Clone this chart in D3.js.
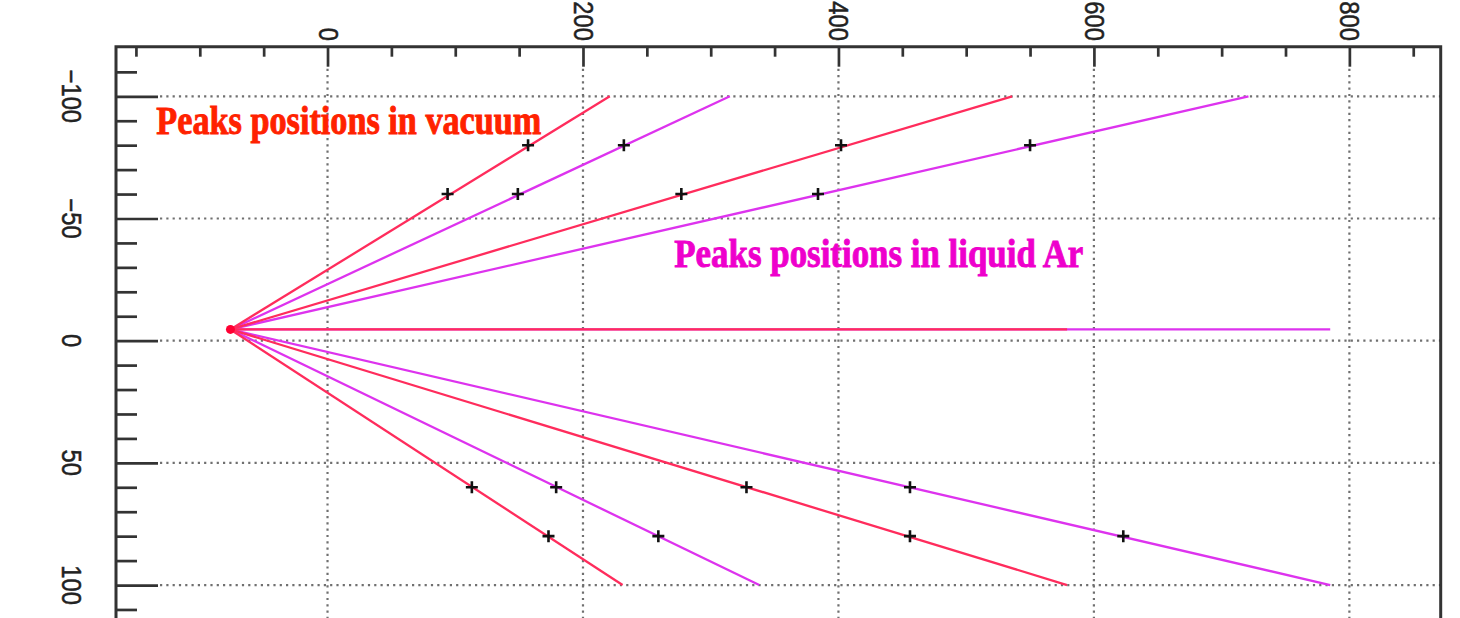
<!DOCTYPE html>
<html>
<head>
<meta charset="utf-8">
<script src="https://cdn.jsdelivr.net/npm/d3@7"></script>
<style>
  html, body { margin: 0; padding: 0; background: #fff; }
  svg { display: block; }
</style>
</head>
<body>
<svg id="chart" width="1460" height="618"></svg>
<script>
// Common emission point of all rays (x, y)
const source = [-76, -4.6];

// Ray end points in vacuum (red) and in liquid argon (magenta)
const vacuumEnds = [[221, -100], [536, -100], [579, -4.6], [231, 100], [579, 100]];
const liquidEnds = [[315, -100], [721, -100], [785, -4.6], [338, 100], [785, 100]];

// Peak positions along the rays
const vacuumPeaks = [[94, -60], [157, -80], [277, -60], [402, -80], [113, 60], [173, 80], [328, 60], [456, 80]];
const liquidPeaks = [[149, -60], [232, -80], [384, -60], [550, -80], [179, 60], [259, 80], [456, 60], [623, 80]];

// Axis ticks
const xMajor = [0, 200, 400, 600, 800];
const xMinor = [-150, -100, -50, 50, 100, 150, 250, 300, 350, 450, 500, 550, 650, 700, 750, 850];
const yMajor = [-100, -50, 0, 50, 100];
const yMinor = d3.range(-110, 121, 10).filter(v => v % 50 !== 0);

const labels = [
  { text: "Peaks positions in vacuum", at: [-134, -84.4], width: 385, color: "#ff2200" },
  { text: "Peaks positions in liquid Ar", at: [271.5, -30.2], width: 409, color: "#ee00cc" }
];

const svg = d3.select("#chart");
const frameL = 116, frameT = 46.7, frameR = 1440.7;

const x = d3.scaleLinear().domain([-165.6, 871.5]).range([frameL, frameR]);
const y = d3.scaleLinear().domain([-120.3, 120]).range([frameT, 633.9]);

// Dotted grid
const grid = svg.append("g")
  .attr("stroke", "#707070").attr("stroke-width", 2.2)
  .attr("stroke-dasharray", "2.2 4.1").attr("fill", "none");
grid.selectAll(".gx").data(xMajor).join("line")
  .attr("x1", d => x(d)).attr("x2", d => x(d))
  .attr("y1", frameT + 22).attr("y2", 618);
grid.selectAll(".gy").data(yMajor).join("line")
  .attr("x1", frameL + 44).attr("x2", frameR)
  .attr("y1", d => y(d)).attr("y2", d => y(d));

// Rays: liquid first so vacuum rays sit on top
const rays = svg.append("g").attr("fill", "none").attr("stroke-width", 2.3);
rays.selectAll(".liq").data(liquidEnds).join("line")
  .attr("class", "liq")
  .attr("stroke", "#dd33ee")
  .attr("x1", x(source[0])).attr("y1", y(source[1]))
  .attr("x2", d => x(d[0])).attr("y2", d => y(d[1]));
rays.selectAll(".vac").data(vacuumEnds).join("line")
  .attr("class", "vac")
  .attr("stroke", "#ff2c5c")
  .attr("x1", x(source[0])).attr("y1", y(source[1]))
  .attr("x2", d => x(d[0])).attr("y2", d => y(d[1]));
svg.append("circle")
  .attr("cx", x(source[0])).attr("cy", y(source[1])).attr("r", 4.5)
  .attr("fill", "#ff0033");

// Peak markers
const marks = svg.append("g").attr("stroke", "#111").attr("stroke-width", 2.6);
marks.selectAll("path").data(vacuumPeaks.concat(liquidPeaks)).join("path")
  .attr("d", d => {
    const cx = x(d[0]), cy = y(d[1]), h = 6;
    return `M${cx - h},${cy}H${cx + h}M${cx},${cy - h}V${cy + h}`;
  });

// Frame
svg.append("path")
  .attr("d", `M${frameL},618V${frameT}H${frameR}V618`)
  .attr("fill", "none").attr("stroke", "#333").attr("stroke-width", 3);

// Top axis ticks (pointing into the frame)
const ax = svg.append("g").attr("transform", `translate(0,${frameT})`);
ax.append("g").call(d3.axisBottom(x).tickValues(xMinor).tickSize(10).tickFormat(""));
ax.append("g").call(d3.axisBottom(x).tickValues(xMajor).tickSize(20).tickFormat(""));
ax.selectAll(".domain").remove();
ax.selectAll(".tick line").attr("stroke", "#333").attr("stroke-width", 2.7);

// Left axis ticks
const ay = svg.append("g").attr("transform", `translate(${frameL},0)`);
ay.append("g").call(d3.axisRight(y).tickValues(yMinor).tickSize(21).tickFormat(""));
ay.append("g").call(d3.axisRight(y).tickValues(yMajor).tickSize(42).tickFormat(""));
ay.selectAll(".domain").remove();
ay.selectAll(".tick line").attr("stroke", "#333").attr("stroke-width", 2.7);

// Tick labels, turned a quarter clockwise
const fmt = d => d < 0 ? "\u2212" + Math.abs(d) : String(d);
const tickFont = sel => sel
  .attr("font-family", "Liberation Sans, Arial, sans-serif")
  .attr("font-size", 28).attr("fill", "#222")
  .attr("stroke", "#222").attr("stroke-width", 0.5);
svg.append("g").selectAll("text").data(xMajor).join("text")
  .attr("transform", d => `translate(${x(d) - 9},41) rotate(90) scale(0.85,1)`)
  .attr("text-anchor", "end")
  .call(tickFont)
  .text(fmt);
svg.append("g").selectAll("text").data(yMajor).join("text")
  .attr("transform", d => `translate(62,${y(d)}) rotate(90) scale(0.85,1)`)
  .attr("text-anchor", "middle")
  .call(tickFont)
  .text(fmt);

// Annotations
svg.append("g").selectAll("text").data(labels).join("text")
  .attr("x", d => x(d.at[0])).attr("y", d => y(d.at[1]))
  .attr("textLength", d => d.width).attr("lengthAdjust", "spacingAndGlyphs")
  .attr("font-family", "Liberation Serif, Times New Roman, serif")
  .attr("font-weight", "bold").attr("font-size", 40)
  .attr("fill", d => d.color)
  .attr("stroke", d => d.color).attr("stroke-width", 0.9)
  .text(d => d.text);
</script>
</body>
</html>
